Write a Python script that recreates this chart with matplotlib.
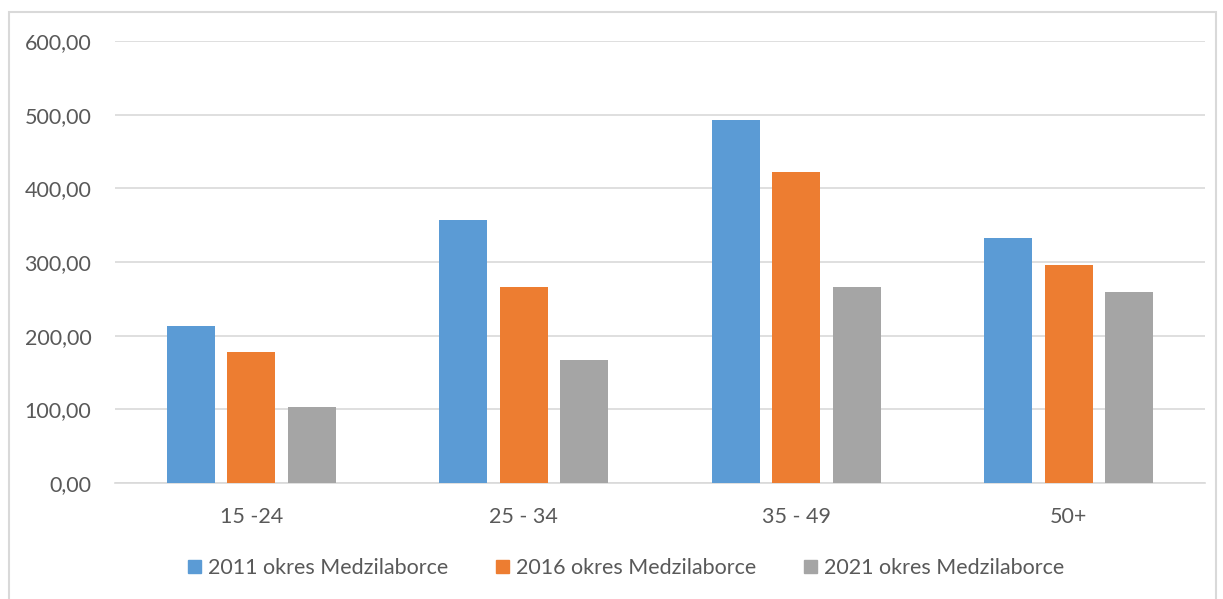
import numpy as np
import matplotlib.pyplot as plt
from matplotlib.patches import Patch, Rectangle
from matplotlib.ticker import FuncFormatter
# ================================================
plt.rcParams['font.family'] = ['Lato', 'DejaVu Sans']
# ================================================
groups   = ['15 -24', '25 - 34', '35 - 49', '50+']
series   = ['2011 okres Medzilaborce', '2016 okres Medzilaborce', '2021 okres Medzilaborce']
v2011    = [213.4, 356.5, 493.0, 333.0]
v2016    = [177.7, 266.0, 421.5, 296.5]
v2021    = [102.5, 167.5, 266.0, 259.5]
colors   = ['#5b9bd5', '#ed7d31', '#a5a5a5']
txtc     = '#595959'
gridc    = '#d9d9d9'
# ================================================
W, H = 1223, 599
fig = plt.figure(figsize=(W/100, H/100), dpi=100)
ax = fig.add_axes([115/W, 1 - 483/H, (1205-115)/W, (483-41)/H])

x = np.arange(len(groups))
bw, off = 0.176, 0.222
for k, vals in enumerate([v2011, v2016, v2021]):
    ax.bar(x + (k-1)*off, vals, width=bw, color=colors[k], zorder=3)

ax.set_xlim(-0.5, len(groups) - 0.5)
ax.set_ylim(0, 600)
ax.set_yticks(np.arange(0, 601, 100))
ax.yaxis.set_major_formatter(FuncFormatter(lambda v, p: f"{v:.2f}".replace('.', ',')))
ax.set_xticks(x)
ax.set_xticklabels(groups)
ax.grid(axis='y', color=gridc, lw=1.2, zorder=0)
for s in ['top', 'right', 'left']:
    ax.spines[s].set_visible(False)
ax.spines['bottom'].set_color(gridc)
ax.spines['bottom'].set_linewidth(1.2)
ax.tick_params(length=0, labelsize=15.5, labelcolor=txtc)
ax.tick_params(axis='y', pad=17)
ax.tick_params(axis='x', pad=17)

handles = [Patch(color=c, label=l) for c, l in zip(colors, series)]
fig.legend(handles=handles, loc='center', bbox_to_anchor=(626/W, 1 - 568/H), ncol=3,
           frameon=False, fontsize=15.5, labelcolor=txtc, handlelength=0.6, handleheight=0.6,
           handletextpad=0.35, columnspacing=2.2)

fig.patches.append(Rectangle((9/W, -0.01), (1216-9)/W, 1 - 12/H + 0.01, transform=fig.transFigure,
                             fill=False, edgecolor=gridc, lw=1.5))
plt.savefig('out.png', dpi=100)
plt.close()
